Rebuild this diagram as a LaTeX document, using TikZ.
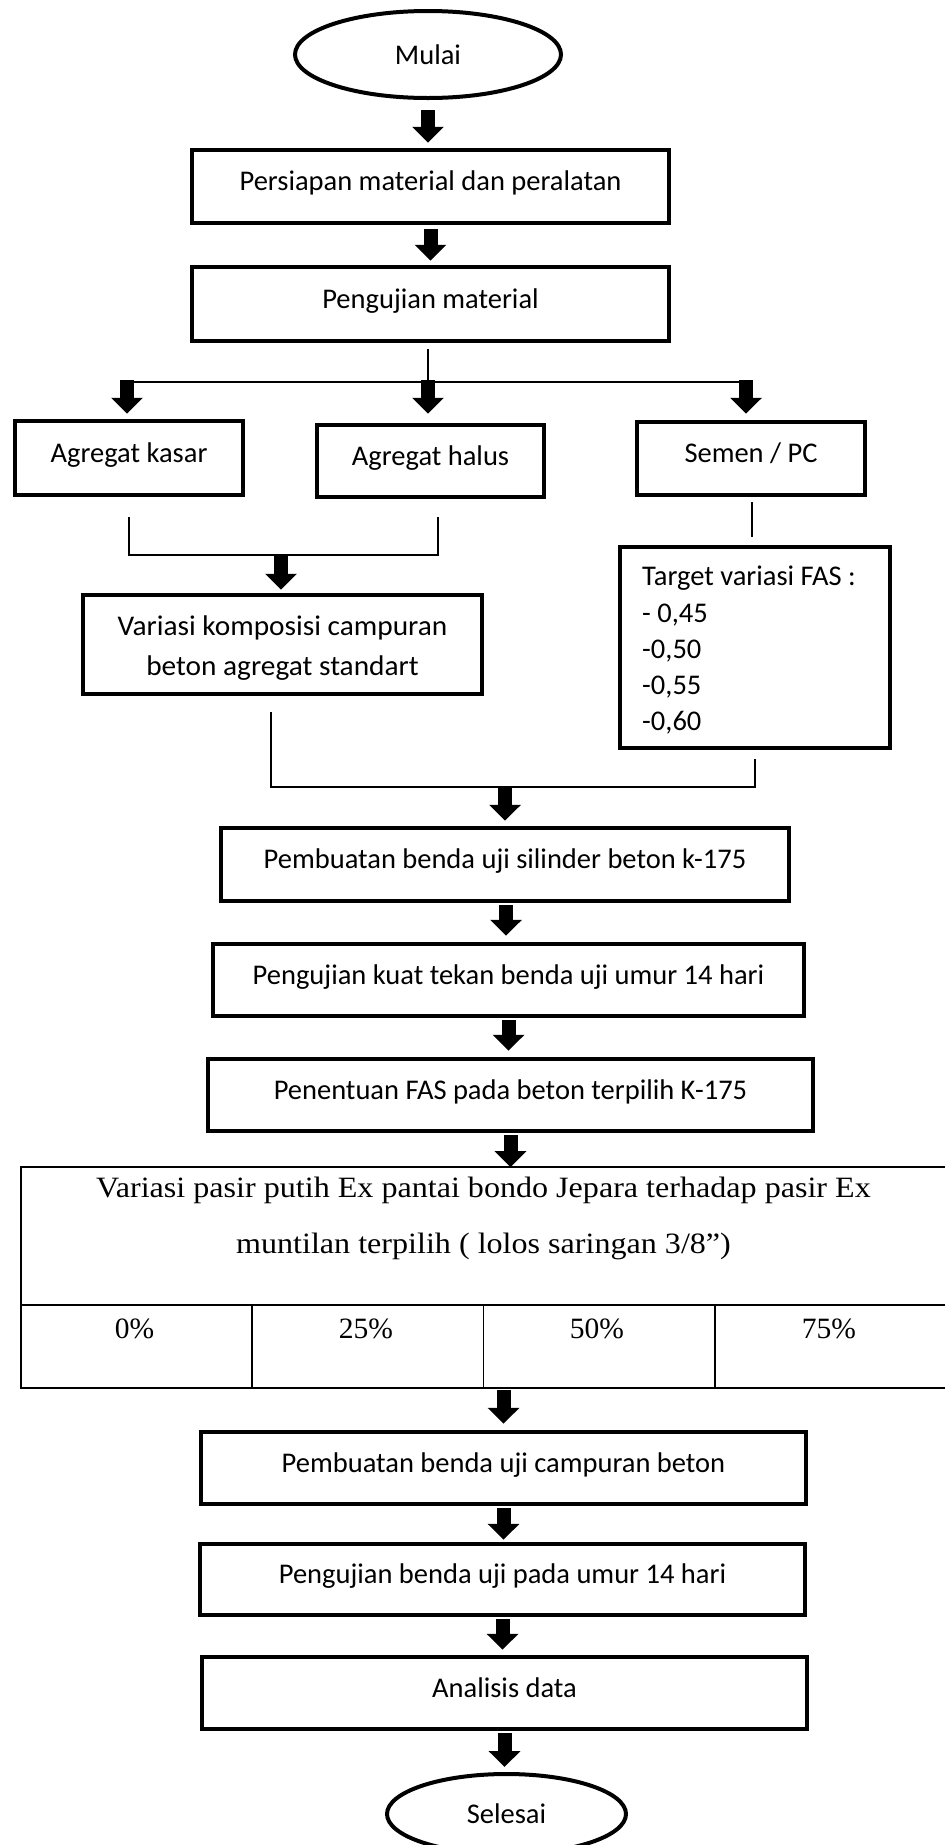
\documentclass[tikz,border=0pt]{standalone}
\usepackage{graphicx}
\usepackage{fontspec}
\setmainfont{Carlito}
\newfontfamily\tnrfam{Liberation Serif}
\usetikzlibrary{arrows.meta,shapes.geometric}
\newcommand\cfont{\fontsize{28.5}{40}\selectfont}
\newcommand\tfont{\tnrfam\fontsize{29.5}{56}\selectfont}
\begin{document}
\begin{tikzpicture}[x=1pt,y=-1pt,
  pbox/.style={draw, line width=4.5pt, inner sep=0pt, font=\cfont, text height=20pt, text depth=12pt},
  term/.style={draw, ellipse, line width=4pt, inner sep=0pt, font=\cfont},
  conn/.style={line width=1.3pt},
  bigarrow/.style={line width=14pt, -{Triangle[width=31pt,length=16pt]}},
  cell/.style={draw, line width=1.8pt, inner sep=0pt},
  txt/.style={inner sep=0pt, font=\cfont, anchor=base west},
  ttxt/.style={inner sep=0pt, font=\tfont, anchor=base}]
\useasboundingbox (0,0) rectangle (945,1845);
\fill[white] (0,0) rectangle (945,1845);

% terminals and boxes
\node[term, minimum width=266pt, minimum height=87pt] (mulai) at (428,54.5) {Mulai};
\node[pbox, minimum width=477pt, minimum height=73pt] (persiapan) at (430.5,186.5) {Persiapan material dan peralatan};
\node[pbox, minimum width=477pt, minimum height=74pt] (pengujian) at (430.5,304) {Pengujian material};
\node[pbox, minimum width=228pt, minimum height=74pt] (kasar) at (129,458) {Agregat kasar};
\node[pbox, minimum width=227pt, minimum height=72pt] (halus) at (430.5,461) {Agregat halus};
\node[pbox, minimum width=228pt, minimum height=73pt] (semen) at (751,458.5) {Semen / PC};
\node[pbox, minimum width=399pt, minimum height=99pt] (variasi) at (282.5,644.5) {};
\node[ttxt, font=\cfont] (variasi1) at (282.5,635) {\scalebox{1.03}[1]{Variasi komposisi campuran}};
\node[ttxt, font=\cfont] (variasi2) at (282.5,675) {\scalebox{1.03}[1]{beton agregat standart}};
\node[pbox, minimum width=270pt, minimum height=201pt] (target) at (755,647.5) {};
\node[txt] (t0) at (642,585.5) {Target variasi FAS :};
\node[txt] (t1) at (642,622) {- 0,45};
\node[txt] (t2) at (642,658) {-0,50};
\node[txt] (t3) at (642,694) {-0,55};
\node[txt] (t4) at (642,730) {-0,60};
\node[pbox, minimum width=568pt, minimum height=73pt] (silinder) at (505,864.5) {Pembuatan benda uji silinder beton k-175};
\node[pbox, minimum width=591pt, minimum height=72pt] (kuat) at (508.5,980) {Pengujian kuat tekan benda uji umur 14 hari};
\node[pbox, minimum width=605pt, minimum height=72pt] (penentuan) at (510.5,1095) {Penentuan FAS pada beton terpilih K-175};

% table
\node[cell, minimum width=925pt, minimum height=138pt] (hdr) at (483.5,1236) {};
\node[cell, minimum width=231.25pt, minimum height=83pt] (c1) at (136.6,1346.5) {};
\node[cell, minimum width=231.25pt, minimum height=83pt] (c2) at (367.9,1346.5) {};
\node[cell, minimum width=231.25pt, minimum height=83pt] (c3) at (599.1,1346.5) {};
\node[cell, minimum width=231.25pt, minimum height=83pt] (c4) at (830.4,1346.5) {};
\node[ttxt] (h1) at (483.5,1197.5) {\scalebox{1.088}[1]{Variasi pasir putih Ex pantai bondo Jepara terhadap pasir Ex}};
\node[ttxt] (h2) at (483.5,1253.5) {\scalebox{1.088}[1]{muntilan terpilih ( lolos saringan 3/8”)}};
\node[ttxt] (p1) at (134.5,1338) {0\%};
\node[ttxt] (p2) at (366,1338) {25\%};
\node[ttxt] (p3) at (597,1338) {50\%};
\node[ttxt] (p4) at (829,1338) {75\%};

\node[pbox, minimum width=605pt, minimum height=72pt] (campuran) at (503.5,1468) {Pembuatan benda uji campuran beton};
\node[pbox, minimum width=605pt, minimum height=71pt] (benda) at (502.5,1579.5) {Pengujian benda uji pada umur 14 hari};
\node[pbox, minimum width=605pt, minimum height=72pt] (analisis) at (504.5,1693) {Analisis data};
\node[term, minimum width=239pt, minimum height=80pt] (selesai) at (506.5,1814) {Selesai};

% coordinates for junctions
\coordinate (split) at (428,382);
\coordinate (hl) at (121,382);
\coordinate (hr) at (747,382);
\coordinate (mergeA) at (281,555);
\coordinate (mergeB) at (505,787);

% connectors
\draw[bigarrow] ([yshift=-10pt]mulai.south) -- ([yshift=5pt]mulai.south |- persiapan.north);
\draw[bigarrow] ([yshift=-4pt]persiapan.south) -- ([yshift=4pt]persiapan.south |- pengujian.north);
\draw[conn] ([xshift=-2.5pt,yshift=-6pt]pengujian.south) -- ([xshift=-2.5pt]pengujian.south |- split);
\draw[conn] (hl) -- (hr);
\draw[bigarrow] ([xshift=-2pt,yshift=2pt]kasar.north |- hl) -- ([xshift=-2pt,yshift=5pt]kasar.north);
\draw[bigarrow] ([xshift=-2.5pt,yshift=2pt]halus.north |- hl) -- ([xshift=-2.5pt,yshift=9pt]halus.north);
\draw[bigarrow] ([xshift=-5pt,yshift=2pt]semen.north |- hl) -- ([xshift=-5pt,yshift=6pt]semen.north);
\draw[conn] ([yshift=-20pt]kasar.south) |- ([xshift=7.5pt]halus.south |- mergeA) -- ([xshift=7.5pt,yshift=-18pt]halus.south);
\draw[bigarrow] ([xshift=-1.5pt,yshift=1pt]variasi.north |- mergeA) -- ([xshift=-1.5pt,yshift=3pt]variasi.north);
\draw[conn] ([xshift=1pt,yshift=-5pt]semen.south) -- ([xshift=1pt,yshift=8pt]semen.south |- target.north);
\draw[conn] ([xshift=-11.5pt,yshift=-16pt]variasi.south) |- (target.south |- mergeB) -- ([yshift=-9pt]target.south);
\draw[bigarrow] ([yshift=1pt]silinder.north |- mergeB) -- ([yshift=5pt]silinder.north);
\draw[bigarrow] ([xshift=1pt,yshift=-2pt]silinder.south) -- ([xshift=1pt,yshift=6pt]silinder.south |- kuat.north);
\draw[bigarrow] ([yshift=-2pt]kuat.south) -- ([yshift=6pt]kuat.south |- penentuan.north);
\draw[bigarrow] ([yshift=-2pt]penentuan.south) -- ([yshift=-1pt]penentuan.south |- hdr.north);
\draw[bigarrow] ([yshift=-1pt]campuran.north |- c2.south) -- ([yshift=6pt]campuran.north);
\draw[bigarrow] ([yshift=-2pt]campuran.south) -- ([yshift=2pt]campuran.south |- benda.north);
\draw[bigarrow] ([yshift=-2pt]benda.south) -- ([yshift=5pt]benda.south |- analisis.north);
\draw[bigarrow] ([yshift=-2pt]analisis.south) -- ([yshift=5pt]analisis.south |- selesai.north);
\end{tikzpicture}
\end{document}
